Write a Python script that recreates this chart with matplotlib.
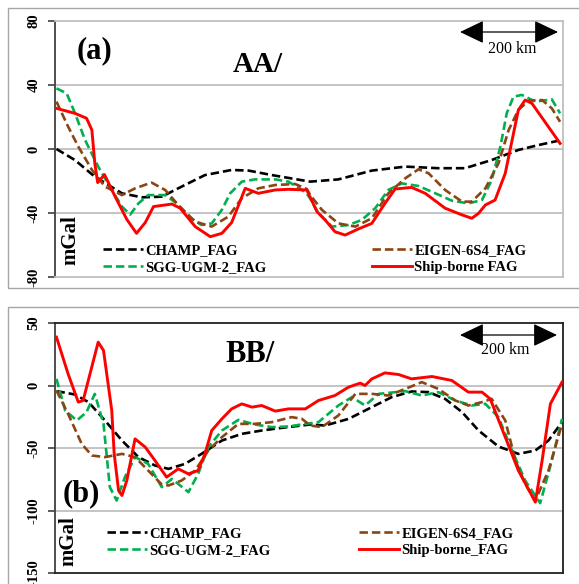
import matplotlib
matplotlib.use("Agg")
import matplotlib.pyplot as plt
from matplotlib.patches import Rectangle, FancyArrowPatch

W, H = 579, 584
def fx(px): return px / W
def fy(py): return 1 - py / H

# ---------------- data (distance km, mGal) ----------------
# Panel (a) profile AA/
a_ship_x = [3, 41, 65, 76, 82, 88, 102, 124, 148, 168, 186, 203, 241, 258, 289, 320, 344, 364, 392, 419, 454, 481, 519, 540, 557, 577, 598, 625, 653, 680, 701, 735, 763, 804, 839, 859, 873, 887, 907, 928, 945, 955, 969, 983, 1041]
a_ship_y = [25.4, 22.3, 19.2, 11.9, -8.8, -21, -16, -29.8, -44, -52.7, -46, -36, -34.4, -37, -48.5, -54.8, -52.7, -46, -24.6, -27.7, -25.6, -25.2, -25.6, -39.2, -44.4, -51.7, -53.8, -50, -46.5, -34, -25, -24, -27.7, -37, -41.2, -43.3, -40.2, -35, -31.9, -15.2, 9.8, 24.4, 30.6, 28.5, 3.5]

a_sgg_x = [3, 24, 41, 62, 89, 113, 138, 155, 172, 192, 227, 251, 275, 302, 323, 344, 361, 385, 412, 454, 481, 509, 519, 526, 543, 571, 605, 632, 660, 687, 715, 749, 784, 818, 852, 880, 900, 918, 931, 945, 962, 990, 1024, 1041]
a_sgg_y = [37.9, 34.8, 22.5, 5.6, -11, -23.5, -36, -41, -34, -28.8, -28.8, -34, -42.3, -47.5, -46.5, -38, -27.7, -20.4, -19, -19, -20.4, -25.6, -28, -31, -40.2, -48.5, -47.5, -44.4, -37, -25.6, -21.5, -23.1, -27.7, -32.3, -34, -31.9, -19.4, 1.5, 22.3, 32.7, 33.8, 29.6, 31, 22.3]

a_eigen_x = [3, 27, 48, 76, 103, 138, 165, 199, 227, 254, 289, 323, 357, 385, 419, 454, 495, 519, 526, 550, 584, 619, 653, 687, 722, 749, 770, 804, 839, 859, 887, 914, 935, 955, 976, 1004, 1024, 1041]
a_eigen_y = [29.6, 14, 1.5, -13, -23.5, -28.8, -24.6, -21, -25.6, -35, -45.4, -48.5, -42.3, -30.8, -24.6, -22.5, -21.9, -25, -28.8, -38, -46.5, -48.5, -43.3, -27.7, -18.3, -12.7, -15.2, -25.6, -32.9, -32.9, -24.6, -9, 11.9, 24.4, 30.2, 30.6, 25.4, 17]

a_champ_x = [3, 41, 82, 138, 179, 220, 261, 309, 364, 399, 447, 526, 584, 653, 722, 790, 845, 900, 955, 997, 1038]
a_champ_y = [0, -6.9, -17.3, -27.7, -30.2, -29.8, -23.5, -16.3, -13.1, -13.5, -16.3, -20.4, -19, -13.5, -11, -12, -12, -6.9, -0.6, 2.5, 5.2]

# Panel (b) profile BB/
b_ship_x = [3, 27, 48, 58, 89, 100, 117, 122, 131, 138, 148, 165, 186, 206, 230, 254, 275, 295, 309, 323, 344, 364, 385, 406, 426, 454, 481, 516, 543, 577, 605, 629, 639, 653, 680, 708, 735, 777, 818, 852, 880, 897, 928, 955, 990, 1004, 1021, 1045]
b_ship_y = [38.7, 9.3, -13.3, -12, 34.7, 28, -20, -54.7, -84, -88, -76, -42.7, -49.3, -60, -73.3, -66.7, -70.7, -68, -54.7, -36, -26.7, -18.7, -14.7, -17.3, -16, -20.5, -18.7, -18.7, -12, -8, -1.3, 1.9, 0, 5.3, 10.1, 8.8, 5.3, 7.2, 4, -5.3, -5.3, -10.7, -41.3, -68, -93.3, -60, -14.7, 2.7]

b_sgg_x = [3, 21, 45, 65, 82, 100, 113, 127, 144, 165, 192, 220, 241, 275, 295, 316, 344, 378, 412, 447, 481, 516, 543, 584, 612, 639, 667, 722, 756, 790, 825, 859, 887, 914, 942, 969, 1000, 1024, 1045]
b_sgg_y = [5.3, -20, -28, -21.3, -6.7, -30.7, -81.3, -92, -73.3, -57.3, -62.7, -81.3, -74.7, -85.3, -70.7, -49.3, -36, -27.5, -31.2, -33.3, -32.8, -30.7, -29.3, -16, -9.3, -16, -6.7, -4.5, -8, -5.3, -12, -16, -14.7, -25.3, -52, -76, -94.1, -60, -26.7]

b_eigen_x = [3, 27, 55, 76, 103, 138, 165, 192, 220, 234, 261, 289, 316, 344, 378, 412, 447, 488, 509, 526, 550, 584, 619, 653, 687, 722, 756, 790, 825, 852, 880, 900, 928, 949, 969, 990, 1017, 1045]
b_eigen_y = [-4, -22.7, -46.7, -56, -57.3, -54.7, -57.3, -68, -79.2, -80, -76, -68, -52, -41.3, -30.7, -30.7, -29.3, -25.3, -26.7, -32, -33.3, -24, -6.7, -6.7, -8, -2.7, 2.7, -2.7, -12, -16, -13.3, -10.7, -28, -60, -78.7, -92, -68, -30.7]

b_champ_x = [3, 41, 69, 103, 138, 172, 206, 234, 268, 302, 344, 385, 426, 467, 526, 557, 605, 653, 694, 735, 770, 804, 839, 873, 914, 955, 990, 1017, 1045]
b_champ_y = [-4.5, -7.2, -13.3, -28, -44, -57.3, -64, -66.7, -62.7, -54.7, -44, -38.7, -36, -33.9, -31.2, -32, -26.7, -17.3, -9.3, -4.8, -5.3, -10.7, -21.3, -36, -48.8, -54.7, -52, -44, -29.3]

a_yticks = [-80, -40, 0, 40, 80]
b_yticks = [-150, -100, -50, 0, 50]
a_labels = ["CHAMP_FAG", "SGG-UGM-2_FAG", "EIGEN-6S4_FAG", "Ship-borne FAG"]
b_labels = ["CHAMP_FAG", "SGG-UGM-2_FAG", "EIGEN-6S4_FAG", "Ship-borne_FAG"]

C_BLACK = "#000000"
C_GREEN = "#00B050"
C_BROWN = "#8B4513"
C_RED = "#FF0000"
GRID = "#BFBFBF"
SERIF = "Liberation Serif"

plt.rcParams['font.family'] = SERIF
plt.rcParams['axes.unicode_minus'] = False

fig = plt.figure(figsize=(W / 100, H / 100), dpi=100)
fig.patch.set_facecolor("white")

# outer panel frames
fig.patches.append(Rectangle((fx(8), fy(288)), fx(600) - fx(8), fy(8) - fy(288),
                             transform=fig.transFigure, fill=False, ec="#A6A6A6", lw=1.0))
fig.patches.append(Rectangle((fx(8), fy(620)), fx(600) - fx(8), fy(307) - fy(620),
                             transform=fig.transFigure, fill=False, ec="#A6A6A6", lw=1.0))

XMAX = 1047
LW = 1.9
DASH = (3.2, 1.5)

def make_axes(rect, ylim, yticks, frame_col):
    ax = fig.add_axes(rect)
    ax.set_xlim(0, XMAX)
    ax.set_ylim(*ylim)
    ax.set_yticks(yticks)
    ax.set_xticks([])
    for t in yticks[1:-1]:
        ax.axhline(t, color=GRID, lw=1.3, zorder=0)
    for s in ["top", "right", "bottom"]:
        ax.spines[s].set_color(frame_col)
        ax.spines[s].set_linewidth(1.3)
    ax.spines["left"].set_color("#404040")
    ax.spines["left"].set_linewidth(1.3)
    ax.tick_params(axis="y", direction="out", length=5, width=1.2, color="#404040",
                   pad=10, labelsize=10.5)
    for lab in ax.get_yticklabels():
        lab.set_rotation(90)
        lab.set_fontweight("bold")
        lab.set_va("center")
        lab.set_ha("center")
    return ax

def draw(ax, cx, cy, gx, gy, ex, ey, sx, sy, labels, lpos_left, lpos_right):
    l1, = ax.plot(cx, cy, color=C_BLACK, lw=LW, dashes=DASH, zorder=3)
    l2, = ax.plot(gx, gy, color=C_GREEN, lw=LW, dashes=DASH, zorder=3)
    l3, = ax.plot(ex, ey, color=C_BROWN, lw=LW, dashes=DASH, zorder=3)
    l4, = ax.plot(sx, sy, color=C_RED, lw=2.1, zorder=4)
    kw = dict(frameon=False, borderpad=0, borderaxespad=0, handlelength=2.75,
              handletextpad=0.15, labelspacing=0.28, loc="center left",
              bbox_transform=fig.transFigure,
              prop=dict(family=SERIF, weight="bold", size=10.5))
    leg1 = ax.legend([l1, l2], labels[:2], bbox_to_anchor=(fx(lpos_left[0]), fy(lpos_left[1])), **kw)
    ax.add_artist(leg1)
    ax.legend([l3, l4], labels[2:], bbox_to_anchor=(fx(lpos_right[0]), fy(lpos_right[1])), **kw)

# axes (a)
axA = make_axes([fx(55), fy(277), fx(563) - fx(55), fy(21) - fy(277)], (-80, 80), a_yticks, GRID)
draw(axA, a_champ_x, a_champ_y, a_sgg_x, a_sgg_y, a_eigen_x, a_eigen_y, a_ship_x, a_ship_y,
     a_labels, (103, 259), (372, 259))

# axes (b)
axB = make_axes([fx(55), fy(573), fx(563) - fx(55), fy(323) - fy(573)], (-150, 50), b_yticks, "#202020")
draw(axB, b_champ_x, b_champ_y, b_sgg_x, b_sgg_y, b_eigen_x, b_eigen_y, b_ship_x, b_ship_y,
     b_labels, (107, 542), (359, 542))

# texts
fig.text(fx(95), fy(51), "(a)", fontsize=22, fontweight="bold", ha="center", va="center")
fig.text(fx(258), fy(65), "AA/", fontsize=21, fontweight="bold", ha="center", va="center")
fig.text(fx(81), fy(494), "(b)", fontsize=22, fontweight="bold", ha="center", va="center")
fig.text(fx(250), fy(354), "BB/", fontsize=22, fontweight="bold", ha="center", va="center")
fig.text(fx(70), fy(240), "mGal", fontsize=15, fontweight="bold", rotation=90, ha="center", va="center")
fig.text(fx(68), fy(541), "mGal", fontsize=15, fontweight="bold", rotation=90, ha="center", va="center")

# scale bars
for (x0, x1, y, ty, tx) in [(460, 558, 32, 49, 512), (460, 557, 335, 350, 505)]:
    arr = FancyArrowPatch((fx(x0), fy(y)), (fx(x1), fy(y)), transform=fig.transFigure,
                          arrowstyle="<|-|>,head_length=1.15,head_width=0.55",
                          mutation_scale=13, color="black", lw=0.9, shrinkA=0, shrinkB=0)
    fig.patches.append(arr)
    fig.text(fx(tx), fy(ty), "200 km", fontsize=11.5, ha="center", va="center")

fig.savefig("out.png", dpi=100, facecolor="white")
